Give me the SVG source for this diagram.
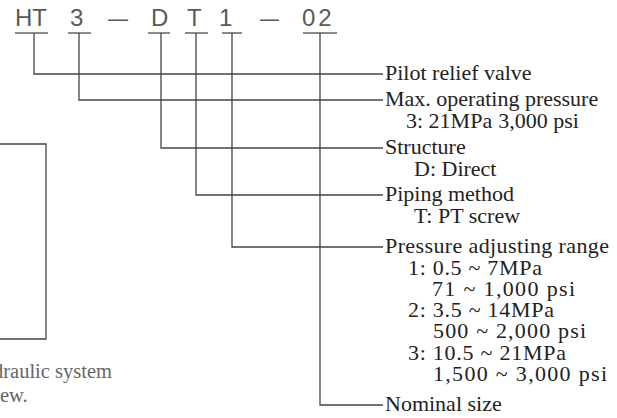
<svg xmlns="http://www.w3.org/2000/svg" width="617" height="418" viewBox="0 0 617 418">
<style>
.code{font-family:"Liberation Sans",Arial,sans-serif;font-size:24px;fill:#5a5a5a}
.lbl{font-family:"Liberation Serif","Times New Roman",serif;font-size:22px;fill:#222}
.cap{font-family:"Liberation Serif","Times New Roman",serif;font-size:20.5px;fill:#666}
.ln{fill:none;stroke:#444;stroke-width:1.3}
.ul{fill:none;stroke:#666;stroke-width:1.6}
</style>
<rect width="617" height="418" fill="#fff"/>
<g id="code">
<text class="code" x="15" y="26">HT</text>
<text class="code" x="70" y="26">3</text>
<text class="code" x="108" y="26" textLength="20" lengthAdjust="spacingAndGlyphs">–</text>
<text class="code" x="151" y="26">D</text>
<text class="code" x="187" y="26">T</text>
<text class="code" x="219" y="26">1</text>
<text class="code" x="260" y="26" textLength="19" lengthAdjust="spacingAndGlyphs">–</text>
<text class="code" x="302" y="26" letter-spacing="3">02</text>
<path class="ul" d="M15 33H48M68 33H91M148 33H170M185 33H208M222 33H242M303 33H337"/>
</g>
<g id="connectors">
<path class="ln" d="M34 33V74H383"/>
<path class="ln" d="M79 33V100H383"/>
<path class="ln" d="M161 33V148H383"/>
<path class="ln" d="M196 33V195H383"/>
<path class="ln" d="M232 33V247H383"/>
<path class="ln" d="M320 33V405H383"/>
</g>
<g id="pilot"><text class="lbl" x="385" y="80">Pilot relief valve</text></g>
<g id="pressure">
<text class="lbl" x="385" y="106">Max. operating pressure</text>
<text class="lbl" x="406" y="128">3: 21MPa<tspan dx="6">3,000 psi</tspan></text>
</g>
<g id="structure">
<text class="lbl" x="385" y="154">Structure</text>
<text class="lbl" x="414" y="176">D: Direct</text>
</g>
<g id="piping">
<text class="lbl" x="385" y="201">Piping method</text>
<text class="lbl" x="414" y="223">T: PT screw</text>
</g>
<g id="range">
<text class="lbl" x="385" y="253" textLength="224" lengthAdjust="spacing">Pressure adjusting range</text>
<text class="lbl" x="408" y="275" textLength="134" lengthAdjust="spacing">1: 0.5 ~ 7MPa</text>
<text class="lbl" x="432" y="296" textLength="143" lengthAdjust="spacing">71 ~ 1,000 psi</text>
<text class="lbl" x="408" y="317" textLength="146" lengthAdjust="spacing">2: 3.5 ~ 14MPa</text>
<text class="lbl" x="433" y="338" textLength="153" lengthAdjust="spacing">500 ~ 2,000 psi</text>
<text class="lbl" x="408" y="360" textLength="158" lengthAdjust="spacing">3: 10.5 ~ 21MPa</text>
<text class="lbl" x="433" y="381" textLength="174" lengthAdjust="spacing">1,500 ~ 3,000 psi</text>
</g>
<g id="nominal"><text class="lbl" x="385" y="411">Nominal size</text></g>
<g id="leftbox">
<path class="ln" d="M0 144H46V339H0"/>
<text class="cap" x="-7" y="378">draulic system</text>
<text class="cap" x="0" y="402">ew.</text>
</g>
</svg>
